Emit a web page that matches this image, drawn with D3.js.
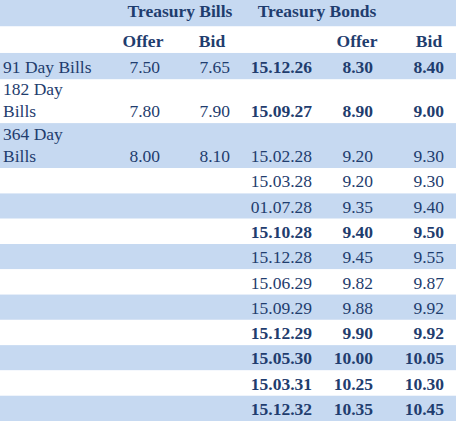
<!DOCTYPE html><html><head><script src="https://cdn.jsdelivr.net/npm/d3@7"></script>
<style>body{margin:0;background:#fff}</style></head><body><script>
const billLabels=[["91 Day Bills"],["182 Day","Bills"],["364 Day","Bills"]];
const billOffer=["7.50","7.80","8.00"];
const billBid=["7.65","7.90","8.10"];
const bondDates=["15.12.26","15.09.27","15.02.28","15.03.28","01.07.28","15.10.28","15.12.28","15.06.29","15.09.29","15.12.29","15.05.30","15.03.31","15.12.32"];
const bondOffer=["8.30","8.90","9.20","9.20","9.35","9.40","9.45","9.82","9.88","9.90","10.00","10.25","10.35"];
const bondBid=["8.40","9.00","9.30","9.30","9.40","9.50","9.55","9.87","9.92","9.92","10.05","10.30","10.45"];
const bondBold=[1,1,0,0,0,1,0,0,0,1,1,1,1];
const W=456,H=421,navy="#1f3d6e",blue="#c6d9f1";
const svg=d3.select("body").append("svg").attr("width",W).attr("height",H).style("font-family","Liberation Serif").style("font-size","17.5px");
// row heights (units): 2 header rows, 3 bill rows, 10 more bond rows
const units=[1,1,1,1.65,1.7,...d3.range(10).map(()=>0.955)];
const cum=[0];units.forEach(u=>cum.push(cum[cum.length-1]+u));
const y=d3.scaleLinear().domain([0,cum[cum.length-1]]).range([0,H]);
const x=d3.scaleOrdinal().domain(["label","bo","bb","date","to","tb"]).range([3,160,230,312,373,444]);
units.forEach((u,i)=>{svg.append("rect").attr("x",0).attr("width",W).attr("y",y(cum[i])).attr("height",y(cum[i+1])-y(cum[i])).attr("fill",i%2===0?blue:"#fff");});
const txt=(t,xx,yy,anchor,bold)=>svg.append("text").attr("x",xx).attr("y",yy).attr("text-anchor",anchor).attr("fill",navy).attr("font-weight",bold?"bold":"normal").text(t);
const base=i=>y(cum[i+1])-6;
txt("Treasury Bills",180,base(0)-3,"middle",1);
txt("Treasury Bonds",317,base(0)-3,"middle",1);
txt("Offer",143,base(1),"middle",1);txt("Bid",212,base(1),"middle",1);
txt("Offer",357,base(1),"middle",1);txt("Bid",429,base(1),"middle",1);
bondDates.forEach((d,k)=>{const i=k+2,b=base(i);
 if(k<3){const L=billLabels[k];L.forEach((l,j)=>txt(l,x("label"),b-(L.length-1-j)*22,"start",0));
  txt(billOffer[k],x("bo"),b,"end",0);txt(billBid[k],x("bb"),b,"end",0);}
 txt(d,x("date"),b,"end",bondBold[k]);txt(bondOffer[k],x("to"),b,"end",bondBold[k]);txt(bondBid[k],x("tb"),b,"end",bondBold[k]);});
</script></body></html>
